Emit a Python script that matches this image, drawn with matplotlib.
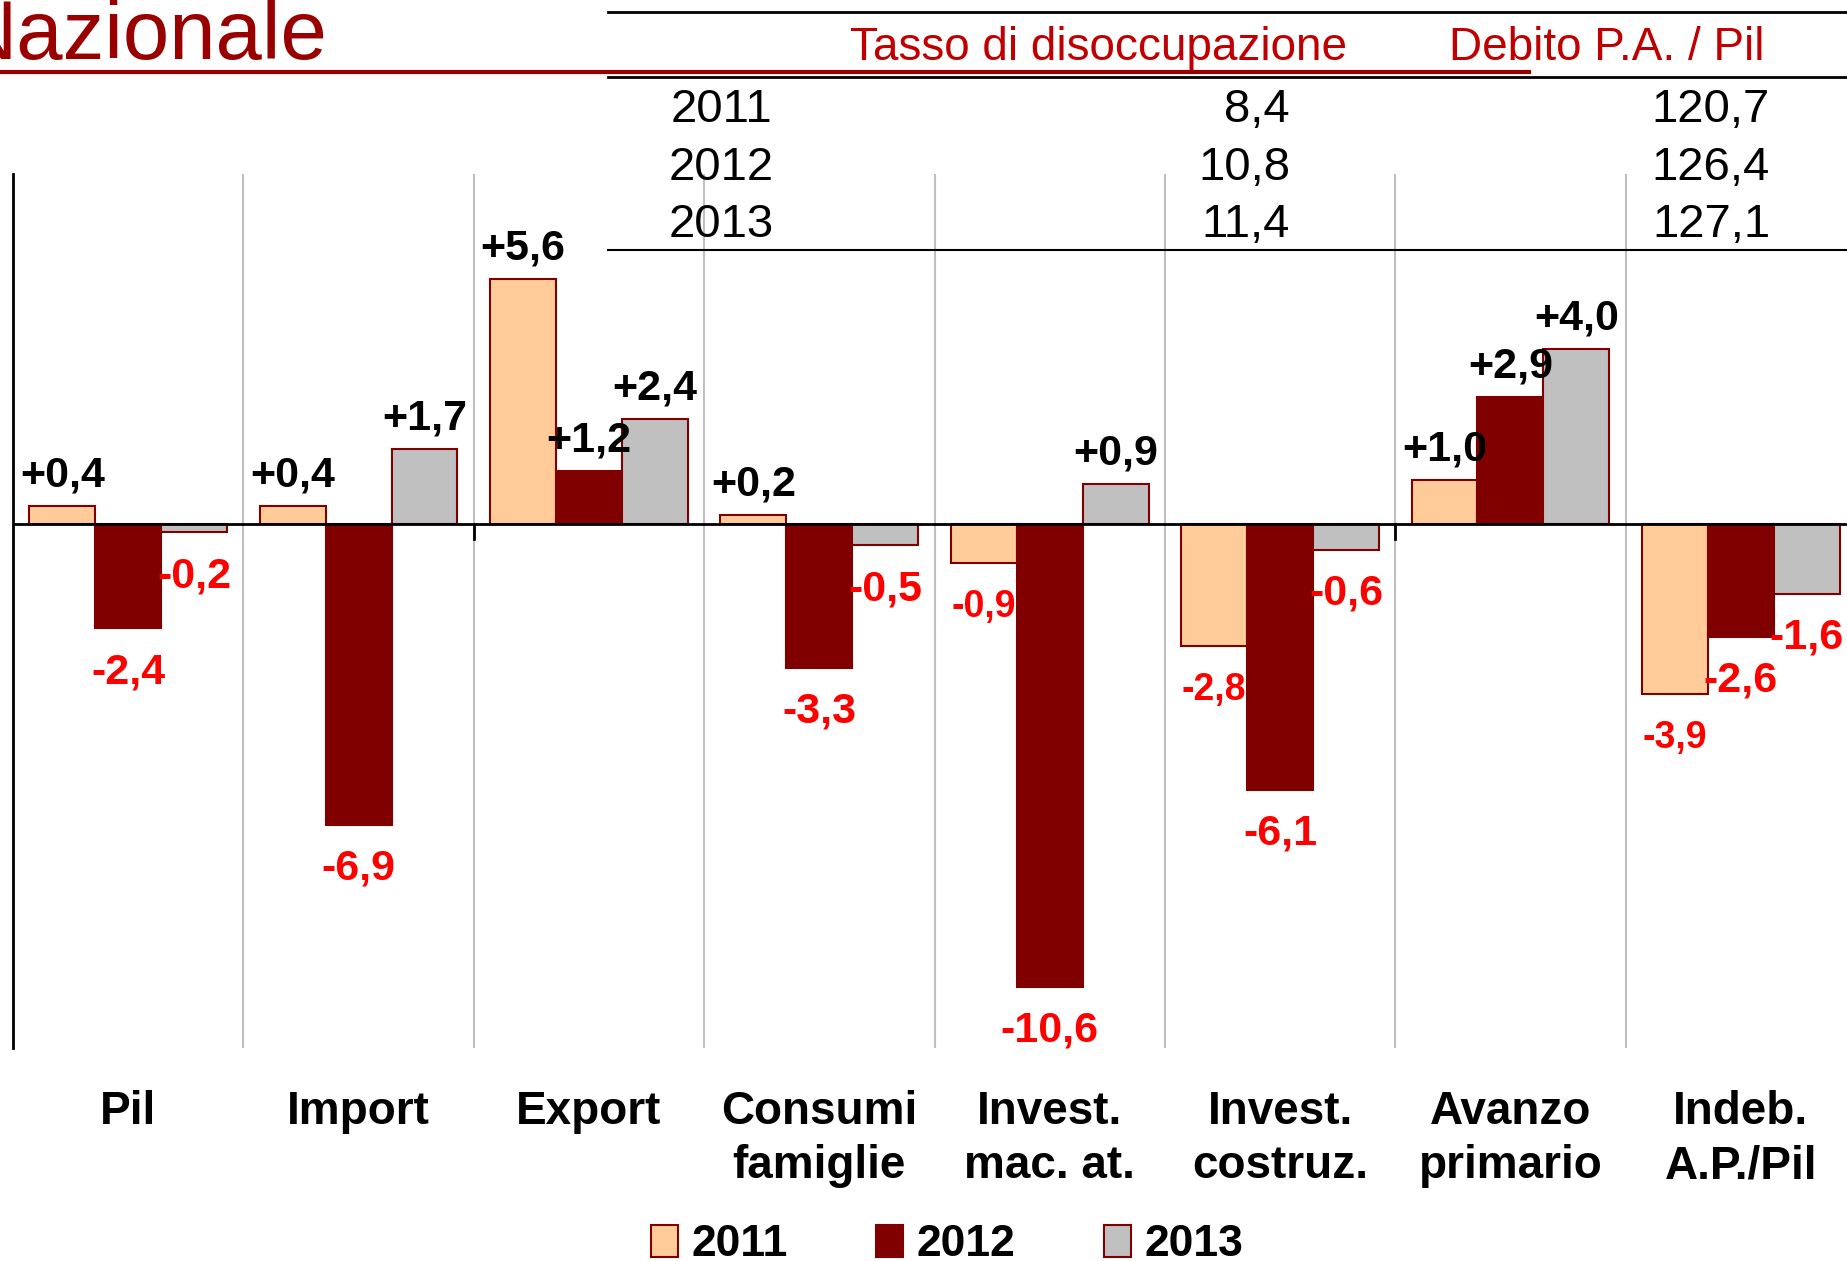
import matplotlib
matplotlib.use("Agg")
import matplotlib.pyplot as plt
from matplotlib.patches import Patch
from matplotlib.lines import Line2D
import numpy as np

# chart data
categories = ["Pil", "Import", "Export", "Consumi\nfamiglie", "Invest.\nmac. at.",
              "Invest.\ncostruz.", "Avanzo\nprimario", "Indeb.\nA.P./Pil"]
years = ["2011", "2012", "2013"]
v2011 = [0.4, 0.4, 5.6, 0.2, -0.9, -2.8, 1.0, -3.9]
v2012 = [-2.4, -6.9, 1.2, -3.3, -10.6, -6.1, 2.9, -2.6]
v2013 = [-0.2, 1.7, 2.4, -0.5, 0.9, -0.6, 4.0, -1.6]

# table at the top
table_years = ["2011", "2012", "2013"]
disoccupazione = ["8,4", "10,8", "11,4"]
debito = ["120,7", "126,4", "127,1"]

colors = ["#FFCC99", "#800000", "#C0C0C0"]
edge = "#800000"
W, H = 1847, 1261

plt.rcParams['font.family'] = ['Liberation Sans', 'DejaVu Sans']

fig = plt.figure(figsize=(W / 100, H / 100), dpi=100)
ax = fig.add_axes([13 / W, (H - 1048) / H, 1843 / W, 874 / H])
ax.set_xlim(-0.5, 7.5)
ax.set_ylim(-12, 8)

x = np.arange(len(categories))
bw = 0.286
series = [v2011, v2012, v2013]
for i, vals in enumerate(series):
    ax.bar(x + (i - 1) * bw, vals, bw, color=colors[i], edgecolor=edge, linewidth=1.5, zorder=3)

# value labels
small = {(0, 4), (0, 5), (0, 7)}
for i, vals in enumerate(series):
    for j, v in enumerate(vals):
        txt = ("+" if v > 0 else "-") + f"{abs(v):.1f}".replace(".", ",")
        xx = x[j] + (i - 1) * bw
        if v > 0:
            ax.text(xx, v + 0.7, txt, ha="center", va="center", fontsize=31,
                    fontweight="bold", color="black", zorder=5)
        else:
            fs = 27 if (i, j) in small else 31
            ax.text(xx, v - 1.0, txt, ha="center", va="center", fontsize=fs,
                    fontweight="bold", color="#FF0000", zorder=5)

# grid and axes
for b in np.arange(0.5, 8, 1):
    ax.axvline(b, color="#BFBFBF", lw=1.5, zorder=1)
ax.axhline(0, color="black", lw=2, zorder=4)
for s in ["top", "right", "bottom"]:
    ax.spines[s].set_visible(False)
ax.spines["left"].set_linewidth(2)
ax.set_xticks([])
ax.set_yticks([])
for b in [1.5, 5.5]:
    ax.plot([b, b], [0, -0.35], color="black", lw=2, zorder=4)

for j, c in enumerate(categories):
    ax.text(x[j], -12.95, c, ha="center", va="top", fontsize=33, fontweight="bold",
            linespacing=1.32, transform=ax.transData, clip_on=False)


def px(xp, yp):
    return xp / W, 1 - yp / H


# title
fig.text(*px(327, 59), "Nazionale", ha="right", va="baseline", fontsize=60, color="#990000")

# table lines
fig.add_artist(Line2D([608 / W, 1], [1 - 12 / H] * 2, color="black", lw=2))
fig.add_artist(Line2D([0, 1529 / W], [1 - 72 / H] * 2, color="#990000", lw=3))
fig.add_artist(Line2D([608 / W, 1], [1 - 77 / H] * 2, color="black", lw=2))
fig.add_artist(Line2D([608 / W, 1], [1 - 250 / H] * 2, color="black", lw=1.5))

fig.text(*px(1099, 48), "Tasso di disoccupazione", ha="center", va="center", fontsize=33, color="#C00000")
fig.text(*px(1607, 48), "Debito P.A. / Pil", ha="center", va="center", fontsize=33, color="#C00000")
for k, yp in enumerate([110, 168, 225]):
    fig.text(*px(721, yp), table_years[k], ha="center", va="center", fontsize=34)
    fig.text(*px(1290, yp), disoccupazione[k], ha="right", va="center", fontsize=34)
    fig.text(*px(1770, yp), debito[k], ha="right", va="center", fontsize=34)

# legend
handles = [Patch(facecolor=colors[i], edgecolor=edge, linewidth=1.5) for i in range(3)]
leg = fig.legend(handles, years, loc="center", bbox_to_anchor=(947 / W, 1 - 1245 / H),
                 ncol=3, frameon=False, handlelength=0.6, handleheight=0.7,
                 handletextpad=0.3, columnspacing=2.0, borderpad=0,
                 prop={"size": 32, "weight": "bold"})

fig.savefig("out.png", dpi=100)
